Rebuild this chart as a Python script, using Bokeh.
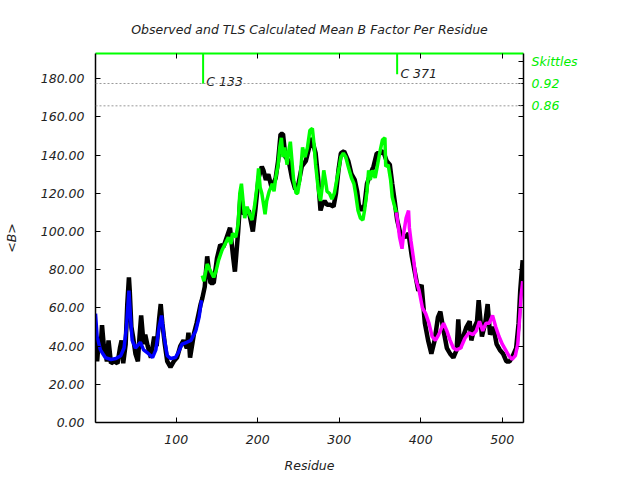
from bokeh.plotting import figure
from bokeh.models import LinearAxis, FixedTicker, Span, Range1d
from bokeh.embed import file_html
from bokeh.resources import INLINE
from bokeh.core.properties import value

title_text = "Observed and TLS Calculated Mean B Factor Per Residue"
x_label = "Residue"
y_label = "<B>"

# Observed mean B per residue (black)
obs_res = [1, 3, 5, 7, 9, 11, 15, 17, 20, 24, 28, 31, 33, 35, 38, 40, 42, 43, 45, 47,
           50, 53, 55, 57, 60, 62, 65, 69, 73, 76, 79, 81, 83, 86, 89, 93, 97, 101, 105, 109,
           113, 115, 117, 122, 125, 128, 130, 132, 135, 138, 142, 146, 150, 154, 158, 162, 166, 170, 172, 176,
           179, 183, 189, 194, 197, 201, 205, 207, 210, 213, 217, 222, 225, 228, 231, 234, 238, 242, 246, 250,
           254, 259, 262, 266, 271, 274, 277, 279, 282, 285, 289, 293, 296, 299, 302, 306, 311, 315, 319, 322,
           324, 328, 331, 334, 338, 342, 346, 350, 354, 358, 362, 365, 368, 371, 375, 381, 385, 389, 393, 397,
           401, 405, 409, 413, 417, 421, 424, 428, 432, 436, 440, 444, 446, 448, 452, 456, 460, 462, 466, 469,
           471, 475, 479, 482, 485, 489, 493, 497, 501, 505, 509, 513, 517, 520, 522, 524, 525]
obs_b = [44, 32, 43, 37, 51, 41, 32, 43, 31, 32, 31, 39, 43, 31, 41, 62, 76, 69, 50, 45,
         36, 32, 45, 56, 41, 46, 40, 34, 45, 40, 54, 62, 52, 41, 32, 29, 32, 34, 40, 43,
         39, 47, 34, 47, 52, 58, 62, 65, 71, 87, 73, 73, 86, 93, 92, 97, 102, 86, 79, 100,
         120, 109, 111, 100, 111, 128, 134, 132, 127, 130, 123, 128, 137, 151, 151, 139, 137, 128, 122, 125,
         134, 137, 142, 149, 141, 128, 111, 114, 116, 114, 114, 113, 120, 132, 141, 142, 137, 130, 127, 121,
         114, 111, 114, 125, 130, 134, 141, 141, 142, 137, 135, 125, 116, 106, 99, 97, 99, 87, 78, 69,
         72, 52, 43, 36, 43, 55, 58, 48, 39, 36, 34, 38, 54, 39, 45, 50, 53, 43, 50, 53,
         64, 45, 52, 62, 46, 50, 41, 38, 36, 32, 32, 35, 39, 52, 69, 80, 85]

# TLS calculated mean B, per TLS group
tls1_res = [1, 3, 7, 13, 20, 26, 32, 36, 39, 42, 44, 46, 50, 56, 60, 66, 71, 75, 79, 82,
            85, 89, 93, 99, 103, 107, 113, 118, 124, 128, 131]
tls1_b = [57, 45, 38, 34, 33, 33.5, 35, 39, 50, 69, 55, 43, 39, 42, 38, 36, 34, 38, 50, 56,
          45, 35, 33.5, 34, 37, 41, 42, 43, 48, 55, 64]

tls2_res = [132, 134, 138, 142, 146, 149, 152, 156, 160, 164, 167, 169, 173, 176, 178, 180, 182, 184, 187, 190,
            193, 196, 199, 201, 203, 205, 209, 211, 214, 218, 220, 222, 225, 227, 229, 231, 233, 236, 238, 240,
            242, 244, 247, 249, 252, 255, 258, 261, 264, 267, 269, 271, 273, 275, 277, 279, 281, 283, 285, 288,
            291, 294, 297, 300, 302, 305, 308, 311, 315, 318, 320, 323, 326, 329, 331, 334, 336, 338, 341, 344,
            347, 350, 353, 356, 357, 360, 363, 365, 368, 370]
tls2_b = [77, 74, 83, 79.5, 76, 79.5, 85, 90, 93.5, 97, 93.5, 99, 97, 104, 120, 125, 116, 107, 113, 109,
          106, 113, 123, 133, 123, 120, 109, 116, 121, 125, 121, 128, 135, 144, 149, 139, 144, 135, 142, 147,
          137, 127, 120, 120, 128, 144, 139, 144, 153, 154, 146, 135, 127, 120, 116, 123, 132, 127, 121, 120,
          117, 120, 127, 134, 139, 141, 139, 134, 128, 125, 120, 111, 107, 106, 111, 121, 132, 127, 132, 128,
          135, 142, 148, 149, 134, 135, 127, 118, 113, 110]

tls3_res = [370, 372, 374, 377, 379, 382, 385, 386, 388, 391, 394, 398, 402, 406, 410, 414, 418, 422, 428, 432,
            436, 440, 444, 449, 454, 459, 464, 468, 472, 476, 480, 484, 488, 492, 496, 500, 504, 508, 512, 516,
            519, 521, 523, 525]
tls3_b = [110, 104, 97, 91, 99, 107, 111, 102, 95, 86, 75, 69, 60, 57, 52, 45, 43, 46, 52, 48,
          43, 39, 38, 39, 44, 47, 46, 48, 53, 48, 52, 52, 56, 50, 45, 41, 38, 35, 33, 35,
          41, 53, 66, 74]

x_ticks = [100, 200, 300, 400, 500]
y_ticks = [0, 20, 40, 60, 80, 100, 120, 140, 160, 180]

skittles_title = "Skittles"
skittles_title_y = 189
skittles_labels = ["0.92", "0.86"]
skittles_y = [177.5, 165.8]

marker_res = [133, 371]
marker_bottom = [177.3, 182.3]
marker_labels = ["C 133", "C 371"]
marker_label_res = [137, 375]
marker_label_y = [178.4, 182.6]

X_MIN, X_MAX = 1, 526
Y_MIN, Y_MAX = 0, 193.2

FONT = "DejaVu Sans"
FS = "12.5px"

p = figure(frame_width=428, frame_height=369,
           x_range=Range1d(X_MIN, X_MAX), y_range=Range1d(Y_MIN, Y_MAX),
           output_backend="svg", toolbar_location=None,
           min_border_left=94, min_border_right=108, min_border_top=53, min_border_bottom=50,
           x_axis_location=None, y_axis_location=None)
p.xgrid.grid_line_color = None
p.ygrid.grid_line_color = None
p.outline_line_color = None
p.background_fill_color = "white"
p.border_fill_color = "white"

p.title.text = title_text
p.title.align = "center"
p.title.text_font = FONT
p.title.text_font_style = "italic"
p.title.text_font_size = FS
p.title.text_color = "#222222"
p.title.standoff = 34


def style_axis(ax, color="black", width=1.5):
    ax.axis_line_color = color
    ax.axis_line_width = width
    ax.major_tick_in = 5
    ax.major_tick_out = 0
    ax.major_tick_line_color = "black"
    ax.minor_tick_line_color = None
    ax.major_label_text_font = FONT
    ax.major_label_text_font_style = "italic"
    ax.major_label_text_font_size = FS
    ax.major_label_text_color = "#222222"
    ax.axis_label_text_font = FONT
    ax.axis_label_text_font_style = "italic"
    ax.axis_label_text_font_size = FS
    ax.axis_label_text_color = "#222222"


left = LinearAxis(ticker=FixedTicker(ticks=y_ticks), axis_label=y_label)
style_axis(left)
left.major_label_overrides = {t: f"{t:.2f}" for t in y_ticks}
left.major_label_standoff = 11
left.axis_label_standoff = 19
p.add_layout(left, "left")

bottom = LinearAxis(ticker=FixedTicker(ticks=x_ticks), axis_label=x_label)
style_axis(bottom)
bottom.major_label_standoff = 12
bottom.axis_label_standoff = 11
p.add_layout(bottom, "below")

top = LinearAxis(ticker=FixedTicker(ticks=x_ticks))
style_axis(top, color="#00ff00", width=2)
top.major_label_overrides = {t: "" for t in x_ticks}
top.major_label_standoff = 0
p.add_layout(top, "above")

right_ticks = y_ticks + skittles_y + [skittles_title_y]
right = LinearAxis(ticker=FixedTicker(ticks=right_ticks))
style_axis(right)
ov = {t: "" for t in y_ticks}
for yv, lab in zip(skittles_y, skittles_labels):
    ov[yv] = lab
ov[skittles_title_y] = skittles_title
right.major_label_overrides = ov
right.major_label_text_color = "#00ee00"
right.major_label_standoff = 8
p.add_layout(right, "right")

for yv in skittles_y:
    p.add_layout(Span(location=yv, dimension="width", line_color="#999999",
                      line_dash="2 2", line_width=1))

p.line(obs_res, obs_b, line_color="black", line_width=4.5)
p.line(tls1_res, tls1_b, line_color="#0000ff", line_width=3.5)
p.line(tls2_res, tls2_b, line_color="#00ff00", line_width=3.5)
p.line(tls3_res, tls3_b, line_color="#ff00ff", line_width=3.5)

p.segment(x0=marker_res, y0=[Y_MAX] * len(marker_res), x1=marker_res, y1=marker_bottom,
          line_color="#00ff00", line_width=2)
p.text(x=marker_label_res, y=marker_label_y, text=marker_labels,
       text_font=value(FONT), text_font_style="italic", text_font_size=FS,
       text_color="#222222", text_baseline="middle", text_align="left")

open("out.html", "w").write(file_html(p, INLINE))
